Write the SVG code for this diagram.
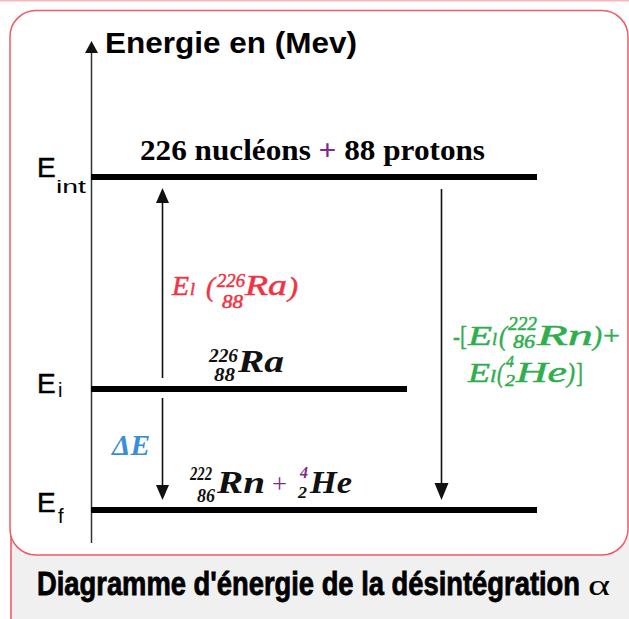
<svg xmlns="http://www.w3.org/2000/svg" width="629" height="619" viewBox="0 0 629 619">
<defs>
<style>
.sans{font-family:"Liberation Sans",Arial,sans-serif;fill:#000}
.e{stroke:#000;stroke-width:0.5}
.serif{font-family:"Liberation Serif","Times New Roman",serif}
.m{font-family:"Liberation Serif","Times New Roman",serif;font-style:italic;font-weight:bold}
.mi{font-family:"Liberation Serif","Times New Roman",serif;font-style:italic;font-weight:normal}
.up{font-family:"Liberation Serif","Times New Roman",serif;font-style:normal;font-weight:normal}
.red{fill:#ee3344}
.red .mi,.green .mi{stroke-width:0.5}
.red text{stroke:#ee3344;stroke-width:0.4}
.green text{stroke:#2fae4e;stroke-width:0.4}
.green{fill:#2fae4e}
.blue{fill:#3a8ed8}
.blk{fill:#111}
.pur{fill:#7d2a8c}
.lvl{stroke:#000;stroke-width:6;fill:none}
.arr{stroke:#111;stroke-width:1.6;fill:none}
.head{fill:#111}
</style>
</defs>
<rect x="0" y="0" width="629" height="619" fill="#fff"/>
<g id="frame">
<rect x="0" y="0" width="629" height="1.5" fill="#f7b9b9"/>
<rect x="11" y="520" width="618" height="99" fill="#f0f0f0"/>
<line x1="11" y1="520" x2="11" y2="619" stroke="#ef5561" stroke-width="1.5"/>
<rect x="10" y="10.5" width="618" height="544.5" rx="26" ry="26" fill="#fff" stroke="#f05a64" stroke-width="1.5"/>
</g>
<g id="connectors">
<line x1="91.5" y1="543" x2="91.5" y2="52" stroke="#333" stroke-width="1.5"/>
<path class="head" d="M85,53 L98,53 L91.5,41 Z"/>
<line class="arr" x1="162.5" y1="378" x2="162.5" y2="200"/>
<path class="head" d="M156,203 L169,203 L162.5,188 Z"/>
<line class="arr" x1="162.5" y1="398" x2="162.5" y2="488"/>
<path class="head" d="M156,485 L169,485 L162.5,500 Z"/>
<line class="arr" x1="441.5" y1="189" x2="441.5" y2="486"/>
<path class="head" d="M434.5,483 L448.5,483 L441.5,500 Z"/>
</g>
<g id="axis-title">
<text class="sans" x="105" y="53" font-size="29" font-weight="bold" textLength="252" lengthAdjust="spacingAndGlyphs">Energie en (Mev)</text>
</g>
<g id="level-int">
<line class="lvl" x1="91" y1="177" x2="537" y2="177"/>
<text class="sans e" x="37" y="177" font-size="28">E</text>
<text class="sans" x="56" y="193" font-size="19" textLength="30" lengthAdjust="spacingAndGlyphs">int</text>
<text class="serif" x="140" y="160" font-size="30" font-weight="bold" textLength="345" lengthAdjust="spacingAndGlyphs">226 nucléons <tspan class="pur">+</tspan> 88 protons</text>
</g>
<g id="level-i">
<line class="lvl" x1="91" y1="389" x2="407" y2="389"/>
<text class="sans e" x="37" y="393" font-size="28">E</text>
<text class="sans" x="58" y="397" font-size="20">i</text>
<g class="blk">
<text class="m" x="209" y="362" font-size="18" textLength="29" lengthAdjust="spacingAndGlyphs">226</text>
<text class="m" x="214" y="381" font-size="18" textLength="21" lengthAdjust="spacingAndGlyphs">88</text>
<text class="m" x="238" y="372" font-size="31" textLength="46" lengthAdjust="spacingAndGlyphs">Ra</text>
</g>
</g>
<g id="level-f">
<line class="lvl" x1="91" y1="510" x2="537" y2="510"/>
<text class="sans e" x="37" y="512" font-size="28">E</text>
<text class="sans" x="58" y="523" font-size="20">f</text>
<g class="blk">
<text class="m" x="190" y="480" font-size="18" textLength="22" lengthAdjust="spacingAndGlyphs">222</text>
<text class="m" x="197" y="502" font-size="18" textLength="18" lengthAdjust="spacingAndGlyphs">86</text>
<text class="m" x="217" y="493" font-size="31" textLength="48" lengthAdjust="spacingAndGlyphs">Rn</text>
<text class="up pur" x="272" y="493" font-size="28" textLength="15" lengthAdjust="spacingAndGlyphs">+</text>
<text class="m pur" x="300" y="478" font-size="16" textLength="8" lengthAdjust="spacingAndGlyphs">4</text>
<text class="m" x="298" y="498" font-size="16" textLength="9" lengthAdjust="spacingAndGlyphs">2</text>
<text class="m" x="310" y="493" font-size="31" textLength="42" lengthAdjust="spacingAndGlyphs">He</text>
</g>
</g>
<g id="label-red" class="red">
<text class="mi" x="172" y="295" font-size="28" textLength="17" lengthAdjust="spacingAndGlyphs">E</text>
<text class="mi" x="190" y="295" font-size="17" textLength="5" lengthAdjust="spacingAndGlyphs">l</text>
<text class="mi" x="206" y="296" font-size="28" textLength="9" lengthAdjust="spacingAndGlyphs">(</text>
<text class="mi" x="217" y="287" font-size="19" textLength="28" lengthAdjust="spacingAndGlyphs">226</text>
<text class="mi" x="222" y="308" font-size="19" textLength="21" lengthAdjust="spacingAndGlyphs">88</text>
<text class="mi" x="245" y="295" font-size="29" textLength="42" lengthAdjust="spacingAndGlyphs">Ra</text>
<text class="mi" x="288" y="296" font-size="28" textLength="10" lengthAdjust="spacingAndGlyphs">)</text>
</g>
<g id="label-green" class="green">
<text class="up" x="453" y="345" font-size="27" textLength="14" lengthAdjust="spacingAndGlyphs">-[</text>
<text class="mi" x="468" y="345" font-size="28" textLength="24" lengthAdjust="spacingAndGlyphs">E</text>
<text class="mi" x="492" y="345" font-size="17" textLength="5" lengthAdjust="spacingAndGlyphs">l</text>
<text class="mi" x="499" y="345" font-size="28" textLength="8" lengthAdjust="spacingAndGlyphs">(</text>
<text class="mi" x="508" y="330" font-size="18" textLength="29" lengthAdjust="spacingAndGlyphs">222</text>
<text class="mi" x="513" y="348" font-size="18" textLength="22" lengthAdjust="spacingAndGlyphs">86</text>
<text class="mi" x="537" y="345" font-size="29" textLength="56" lengthAdjust="spacingAndGlyphs">Rn</text>
<text class="mi" x="593" y="345" font-size="28" textLength="9" lengthAdjust="spacingAndGlyphs">)</text>
<text class="up" x="603" y="345" font-size="28" textLength="17" lengthAdjust="spacingAndGlyphs">+</text>
<text class="mi" x="468" y="382" font-size="28" textLength="22" lengthAdjust="spacingAndGlyphs">E</text>
<text class="mi" x="490" y="382" font-size="17" textLength="6" lengthAdjust="spacingAndGlyphs">l</text>
<text class="mi" x="497" y="382" font-size="28" textLength="7" lengthAdjust="spacingAndGlyphs">(</text>
<text class="mi" x="506" y="367" font-size="16" textLength="8" lengthAdjust="spacingAndGlyphs">4</text>
<text class="mi" x="505" y="386" font-size="16" textLength="10" lengthAdjust="spacingAndGlyphs">2</text>
<text class="mi" x="516" y="382" font-size="29" textLength="51" lengthAdjust="spacingAndGlyphs">He</text>
<text class="mi" x="567" y="382" font-size="28" textLength="8" lengthAdjust="spacingAndGlyphs">)</text>
<text class="up" x="576" y="382" font-size="28" textLength="7" lengthAdjust="spacingAndGlyphs">]</text>
</g>
<g id="label-dE" class="blue">
<text class="m" x="112" y="455" font-size="29" textLength="38" lengthAdjust="spacingAndGlyphs">ΔE</text>
</g>
<g id="caption">
<text class="sans" x="37" y="595" font-size="33" font-weight="bold" stroke="#000" stroke-width="0.8" textLength="543" lengthAdjust="spacingAndGlyphs">Diagramme d'énergie de la désintégration</text>
<text class="serif" x="588" y="595" font-size="30" textLength="22" lengthAdjust="spacingAndGlyphs">α</text>
</g>
</svg>
